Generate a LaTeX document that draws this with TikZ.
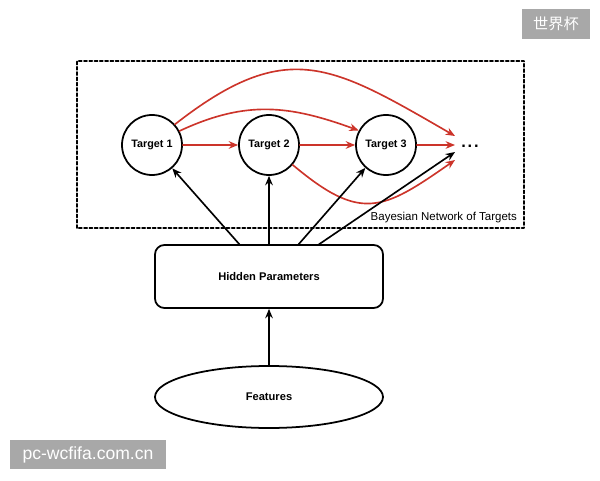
\documentclass[tikz,border=0pt]{standalone}
\usepackage{fontspec}
\setmainfont{Liberation Sans}
\newfontfamily\cjkfont{Noto Sans CJK SC}
\usetikzlibrary{arrows.meta,shapes.geometric}
\definecolor{netred}{RGB}{204,52,42}
\definecolor{markgray}{RGB}{168,168,168}

\begin{document}
\begin{tikzpicture}[x=0.03cm,y=0.03cm,line cap=round,line join=round,
  target/.style={circle,draw=black,line width=1.5pt,minimum size=1.8cm,inner sep=0pt,font=\fontsize{9.2}{11}\selectfont\bfseries},
  redarrow/.style={-{Stealth[length=8pt,width=6.5pt]},netred,line width=1.4pt},
  blackarrow/.style={-{Stealth[length=8pt,width=6.5pt]},black,line width=1.4pt},
  markbox/.style={fill=markgray,text=white,inner sep=0pt}]
\useasboundingbox (0,0) rectangle (600,480);
% network of targets
\draw[line width=1.4pt,dash pattern=on 2.6pt off 1.9pt] (77,252) rectangle (524,419);
\node[anchor=south east,font=\fontsize{9.8}{12}\selectfont] (bnlabel) at (521,253) {Bayesian Network of Targets};
\node[target] (t1) at (152,335) {Target 1};
\node[target] (t2) at (269,335) {Target 2};
\node[target] (t3) at (386,335) {Target 3};
\node[font=\fontsize{14}{14}\selectfont\bfseries] (dots) at (470,334) {.\kern1.5pt.\kern1.5pt.};
\coordinate (d1) at (455,344);
\coordinate (d2) at (455,335);
\coordinate (d3) at (455,328);
\coordinate (d4) at (455,320);
\draw[redarrow] (t1) -- (t2);
\draw[redarrow] (t2) -- (t3);
\draw[redarrow] (t3) -- (d2);
\draw[redarrow] (t1.27) to[out=25,in=160,looseness=1.05] (t3.152);
\draw[redarrow] (t1.42) to[out=38,in=150,looseness=1.3] (d1);
\draw[redarrow] (t2.-40) to[out=-40,in=-145,looseness=1.4] (d4);
% hidden parameters and features
\node[draw,line width=1.5pt,rounded corners=8pt,minimum width=6.84cm,minimum height=1.89cm,font=\fontsize{9.5}{11}\selectfont\bfseries] (hp) at (269,203.5) {Hidden Parameters};
\node[ellipse,draw,line width=1.5pt,minimum width=6.84cm,minimum height=1.86cm,inner sep=0pt,font=\fontsize{9.5}{11}\selectfont\bfseries] (feat) at (269,83) {Features};
\coordinate (h1) at (240,235);
\coordinate (h3) at (298,235);
\coordinate (h4) at (318,235);
\draw[blackarrow] (h1) -- (t1.-49);
\draw[blackarrow] (hp.north) -- (t2.south);
\draw[blackarrow] (h3) -- (t3.-132);
\draw[blackarrow] (h4) -- (d3);
\draw[blackarrow] (feat.north) -- (hp.south);
% marks
\node[markbox,minimum width=2.04cm,minimum height=0.9cm,font=\cjkfont\fontsize{13}{13}\selectfont] (mark1) at (556,456) {世界杯};
\node[markbox,minimum width=4.68cm,minimum height=0.87cm,font=\fontsize{15}{15}\selectfont] (mark2) at (88,25.5) {pc-wcfifa.com.cn};
\end{tikzpicture}
\end{document}
